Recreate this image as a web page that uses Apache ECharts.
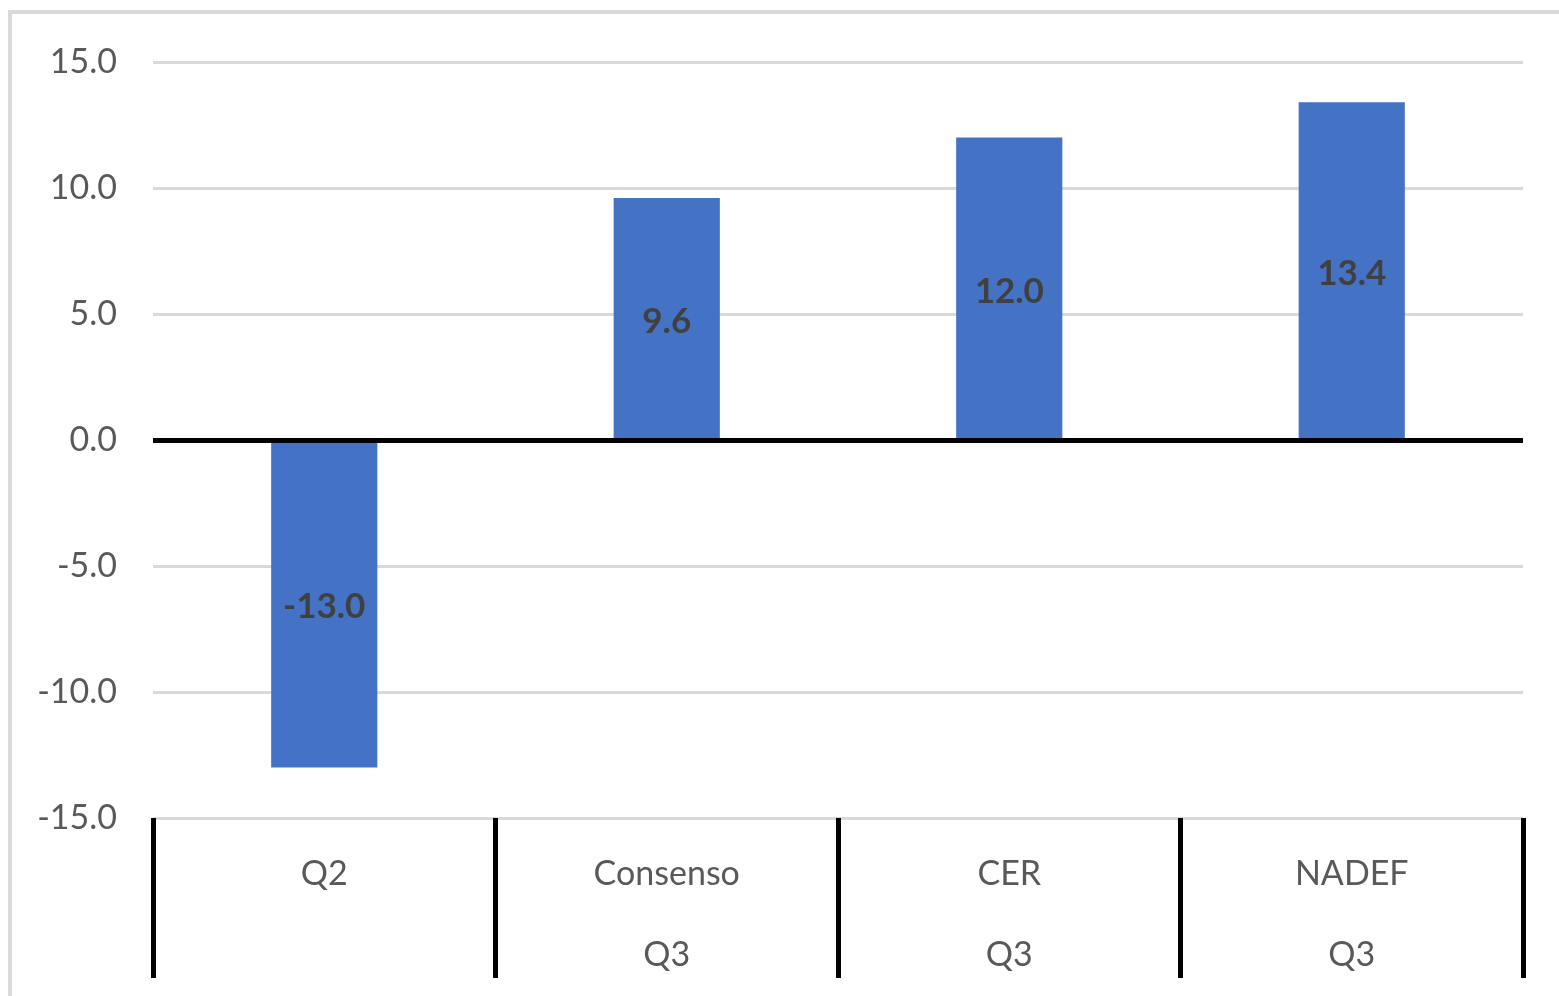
<!DOCTYPE html>
<html>
<head>
<meta charset="utf-8">
<script src="https://cdn.jsdelivr.net/npm/echarts@6/dist/echarts.min.js"></script>
<style>
html,body{margin:0;padding:0;background:#fff;}
#chart{width:1559px;height:996px;}
</style>
</head>
<body>
<div id="chart"></div>
<script>
const categories = ["Q2", "Consenso", "CER", "NADEF"];
const subLabels = ["", "Q3", "Q3", "Q3"];
const values = [-13.0, 9.6, 12.0, 13.4];
const yTicks = { min: -15, max: 15, interval: 5 };

const chart = echarts.init(document.getElementById('chart'));
const FONT = 'Lato';
chart.setOption({
  animation: false,
  backgroundColor: '#fff',
  graphic: [{
    type: 'rect',
    shape: { x: 10, y: 12, width: 1600, height: 1100 },
    style: { fill: 'none', stroke: '#d9d9d9', lineWidth: 4 },
    silent: true, z: -1
  }],
  grid: { left: 153, right: 36, top: 62, bottom: 176, containLabel: false },
  xAxis: {
    type: 'category',
    data: categories.map((c, i) => c + '\n' + (subLabels[i] || ' ')),
    boundaryGap: true,
    axisLine: { show: false, onZero: false },
    axisTick: { show: true, length: 160, lineStyle: { color: '#000', width: 5 } },
    axisLabel: {
      margin: 16,
      color: '#595959',
      fontFamily: FONT,
      fontSize: 34,
      lineHeight: 81
    },
    splitLine: { show: false }
  },
  yAxis: {
    type: 'value',
    min: yTicks.min, max: yTicks.max, interval: yTicks.interval,
    axisLine: { show: false },
    axisTick: { show: false },
    axisLabel: {
      margin: 36,
      color: '#595959',
      fontFamily: FONT,
      fontSize: 34,
      formatter: v => v.toFixed(1)
    },
    splitLine: { lineStyle: { color: '#d9d9d9', width: 3 } }
  },
  series: [{
    type: 'bar',
    data: values,
    barWidth: '31%',
    itemStyle: { color: '#4472c4' },
    label: {
      show: true,
      position: 'inside',
      offset: [0, 3],
      color: '#404040',
      fontFamily: FONT,
      fontWeight: 'bold',
      fontSize: 35,
      formatter: p => p.value.toFixed(1)
    },
    markLine: {
      silent: true,
      symbol: 'none',
      label: { show: false },
      lineStyle: { color: '#000', width: 5, type: 'solid' },
      data: [{ yAxis: 0 }]
    }
  }]
});
</script>
</body>
</html>
